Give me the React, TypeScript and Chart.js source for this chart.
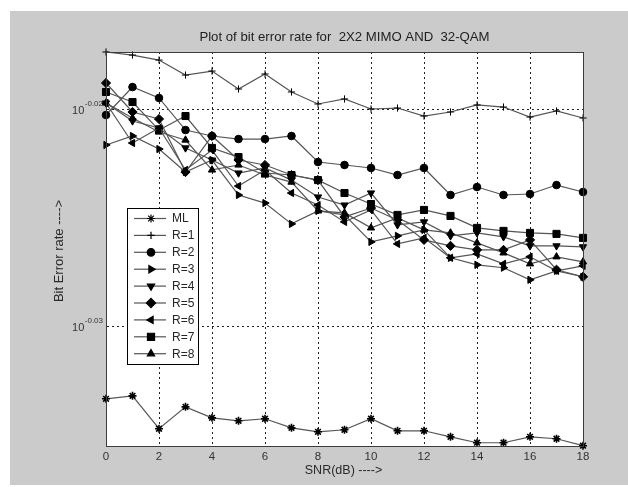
import React, { useEffect, useRef } from 'react';
import { Chart, registerables } from 'chart.js';
import { drawPoint } from 'chart.js/helpers';

Chart.register(...registerables);

// ---------- data ----------
const snrDb = [0, 1, 2, 3, 4, 5, 6, 7, 8, 9, 10, 11, 12, 13, 14, 15, 16, 17, 18];

const berML = [0.92615, 0.92644, 0.92321, 0.92536, 0.92428, 0.92399, 0.92419, 0.92330, 0.92291, 0.92311, 0.92419, 0.92301, 0.92301, 0.92242, 0.92184, 0.92184, 0.92242, 0.92223, 0.92155];
const berR1 = [0.96089, 0.96058, 0.96007, 0.95854, 0.95895, 0.95712, 0.95865, 0.95682, 0.95560, 0.95611, 0.95509, 0.95519, 0.95438, 0.95479, 0.95550, 0.95529, 0.95428, 0.95489, 0.95418];
const berR2 = [0.95448, 0.95732, 0.95621, 0.95296, 0.95236, 0.95205, 0.95205, 0.95236, 0.94973, 0.94943, 0.94913, 0.94842, 0.94913, 0.94641, 0.94721, 0.94641, 0.94651, 0.94741, 0.94671];
const berR3 = [0.95145, 0.95236, 0.95104, 0.94872, 0.94993, 0.94641, 0.94560, 0.94351, 0.94481, 0.94441, 0.94171, 0.94231, 0.94291, 0.94012, 0.93942, 0.93913, 0.93793, 0.93882, 0.93823];
const berR4 = [0.95570, 0.95388, 0.95317, 0.95115, 0.94993, 0.94862, 0.94913, 0.94791, 0.94621, 0.94540, 0.94661, 0.94341, 0.94371, 0.94231, 0.94261, 0.94221, 0.94131, 0.94131, 0.94121];
const berR5 = [0.95773, 0.95479, 0.95408, 0.94872, 0.95236, 0.94993, 0.94943, 0.94842, 0.94791, 0.94421, 0.94510, 0.94391, 0.94191, 0.94131, 0.94091, 0.94091, 0.94191, 0.93893, 0.93823];
const berR6 = [0.95570, 0.95165, 0.95317, 0.94893, 0.95094, 0.94731, 0.94893, 0.94661, 0.94540, 0.94371, 0.94491, 0.94151, 0.94211, 0.94012, 0.94051, 0.93952, 0.94022, 0.93882, 0.93932];
const berR7 = [0.95682, 0.95580, 0.95296, 0.95438, 0.95115, 0.95023, 0.94862, 0.94842, 0.94791, 0.94661, 0.94550, 0.94441, 0.94491, 0.94431, 0.94311, 0.94281, 0.94261, 0.94251, 0.94211];
const berR8 = [0.95570, 0.95418, 0.95276, 0.95195, 0.94893, 0.94943, 0.94842, 0.94771, 0.94481, 0.94461, 0.94311, 0.94411, 0.94291, 0.94261, 0.94161, 0.94061, 0.93952, 0.94022, 0.93972];

const seriesLabels = ['ML', 'R=1', 'R=2', 'R=3', 'R=4', 'R=5', 'R=6', 'R=7', 'R=8'];
const seriesValues = [berML, berR1, berR2, berR3, berR4, berR5, berR6, berR7, berR8];

const titleText = 'Plot of bit error rate for  2X2 MIMO AND  32-QAM';
const xAxisTitle = 'SNR(dB) ---->';
const yAxisTitle = 'Bit Error rate ---->';
const xTickStep = 2;
const xMin = 0;
const xMax = 18;
const yMin = 0.92152;
const yMax = 0.96089;
const yTickExponents = [-0.03, -0.02];
const yTickBase = '10';
const yTickSup = ['-0.03', '-0.02'];

// ---------- styles ----------
const FONT = '"Liberation Sans", Arial, Helvetica, sans-serif';
const LINE_COLOR = '#555555';
const MARK = '#000000';
const markerStyles: any[] = [
  { pointStyle: 'star', radius: 4, rotation: 0, borderWidth: 1.6 },
  { pointStyle: 'cross', radius: 3.6, rotation: 0, borderWidth: 1 },
  { pointStyle: 'circle', radius: 3.8, rotation: 0, borderWidth: 1 },
  { pointStyle: 'triangle', radius: 4.2, rotation: 90, borderWidth: 1 },
  { pointStyle: 'triangle', radius: 4.2, rotation: 180, borderWidth: 1 },
  { pointStyle: 'rectRot', radius: 4.6, rotation: 0, borderWidth: 1 },
  { pointStyle: 'triangle', radius: 4.2, rotation: 270, borderWidth: 1 },
  { pointStyle: 'rect', radius: 5, rotation: 0, borderWidth: 1 },
  { pointStyle: 'triangle', radius: 4.2, rotation: 0, borderWidth: 1 },
];

const decorPlugin = {
  id: 'matlabDecor',
  beforeDraw(chart: any) {
    const { ctx, chartArea: a } = chart;
    ctx.save();
    ctx.fillStyle = '#ffffff';
    ctx.fillRect(a.left, a.top, a.right - a.left, a.bottom - a.top);
    ctx.restore();
  },
  afterDraw(chart: any) {
    const { ctx, chartArea: a } = chart;
    const yScale = chart.scales.y;
    ctx.save();
    // box
    ctx.strokeStyle = '#3c3c3c';
    ctx.lineWidth = 1;
    ctx.strokeRect(Math.round(a.left) + 0.5, Math.round(a.top) + 0.5, Math.round(a.right - a.left), Math.round(a.bottom - a.top));

    // title
    ctx.fillStyle = '#1e1e1e';
    ctx.font = `13.2px ${FONT}`;
    ctx.textAlign = 'center';
    ctx.textBaseline = 'middle';
    ctx.fillText(titleText, (a.left + a.right) / 2, 26);

    // x axis title
    ctx.font = `12.5px ${FONT}`;
    ctx.fillStyle = '#2a2a2a';
    ctx.fillText(xAxisTitle, (a.left + a.right) / 2 - 1, 460);

    // y axis title
    ctx.save();
    ctx.translate(49, (a.top + a.bottom) / 2 + 2);
    ctx.rotate(-Math.PI / 2);
    ctx.font = `13px ${FONT}`;
    ctx.fillText(yAxisTitle, 0, 0);
    ctx.restore();

    // y tick labels with superscript
    yTickExponents.forEach((e, i) => {
      const py = yScale.getPixelForValue(Math.pow(10, e));
      ctx.font = `8px ${FONT}`;
      ctx.textAlign = 'right';
      ctx.textBaseline = 'middle';
      const sup = yTickSup[i];
      const supW = ctx.measureText(sup).width;
      const xr = a.left - 3;
      ctx.fillStyle = '#333333';
      ctx.fillText(sup, xr, py - 6);
      ctx.font = `11px ${FONT}`;
      ctx.fillText(yTickBase, xr - supW - 0.5, py + 1);
    });

    // legend
    const lx = Math.round(a.left) + 21;
    const ly = Math.round(a.top) + 156;
    const lw = 71;
    const lh = 156;
    ctx.fillStyle = '#ffffff';
    ctx.fillRect(lx, ly, lw, lh);
    ctx.strokeStyle = '#000000';
    ctx.lineWidth = 1;
    ctx.strokeRect(lx + 0.5, ly + 0.5, lw, lh);
    chart.data.datasets.forEach((ds: any, i: number) => {
      const yy = ly + 10.5 + i * 16.9;
      ctx.strokeStyle = LINE_COLOR;
      ctx.lineWidth = 1.2;
      ctx.beginPath();
      ctx.moveTo(lx + 7, yy);
      ctx.lineTo(lx + 39, yy);
      ctx.stroke();
      ctx.fillStyle = MARK;
      ctx.strokeStyle = MARK;
      const m = markerStyles[i];
      drawPoint(ctx, { pointStyle: m.pointStyle, rotation: m.rotation, radius: m.radius, borderWidth: m.borderWidth }, lx + 24, yy);
      ctx.fillStyle = '#262626';
      ctx.font = `12px ${FONT}`;
      ctx.textAlign = 'left';
      ctx.textBaseline = 'middle';
      ctx.fillText(ds.label, lx + 45, yy + 0.5);
    });
    ctx.restore();
  },
};

export default function App() {
  const canvasRef = useRef<HTMLCanvasElement | null>(null);

  useEffect(() => {
    const canvas = canvasRef.current;
    if (!canvas) return;
    const datasets = seriesValues.map((vals, i) => ({
      label: seriesLabels[i],
      data: snrDb.map((x, j) => ({ x, y: vals[j] })),
      borderColor: LINE_COLOR,
      borderWidth: 1.2,
      backgroundColor: MARK,
      pointBackgroundColor: MARK,
      pointBorderColor: MARK,
      pointStyle: markerStyles[i].pointStyle,
      pointRadius: markerStyles[i].radius,
      pointRotation: markerStyles[i].rotation,
      pointBorderWidth: markerStyles[i].borderWidth,
      pointHoverRadius: markerStyles[i].radius,
      tension: 0,
      fill: false,
      clip: false as any,
    }));

    const chart = new Chart(canvas, {
      type: 'line',
      data: { datasets },
      options: {
        animation: false,
        responsive: false,
        devicePixelRatio: 1,
        events: [],
        layout: { padding: { left: 0, right: 45, top: 41, bottom: 0 } },
        plugins: {
          legend: { display: false },
          title: { display: false },
          tooltip: { enabled: false },
        },
        scales: {
          x: {
            type: 'linear',
            min: xMin,
            max: xMax,
            ticks: {
              stepSize: xTickStep,
              color: '#333333',
              font: { family: FONT, size: 11.5 },
              padding: 4,
              maxRotation: 0,
            },
            grid: {
              color: '#222222',
              lineWidth: 1,
              drawTicks: false,
            },
            border: { display: true, color: '#3c3c3c', dash: [2, 3] },
            afterFit: (s: any) => { s.height = 41; },
          },
          y: {
            type: 'logarithmic',
            min: yMin,
            max: yMax,
            afterBuildTicks: (s: any) => {
              s.ticks = yTickExponents.map((e) => ({ value: Math.pow(10, e) }));
            },
            ticks: { display: false },
            grid: {
              color: '#222222',
              lineWidth: 1,
              drawTicks: false,
            },
            border: { display: true, color: '#3c3c3c', dash: [2, 3] },
            afterFit: (s: any) => { s.width = 96; },
          },
        },
      },
      plugins: [decorPlugin],
    });
    return () => chart.destroy();
  }, []);

  return (
    <div style={{ position: 'absolute', left: 0, top: 0, width: 628, height: 487, background: '#ffffff' }}>
      <div style={{ position: 'absolute', left: 10, top: 11, width: 618, height: 474, background: '#cbcbcb' }}>
        <canvas ref={canvasRef} width={618} height={476} style={{ display: 'block', width: 618, height: 476 }} />
      </div>
    </div>
  );
}
